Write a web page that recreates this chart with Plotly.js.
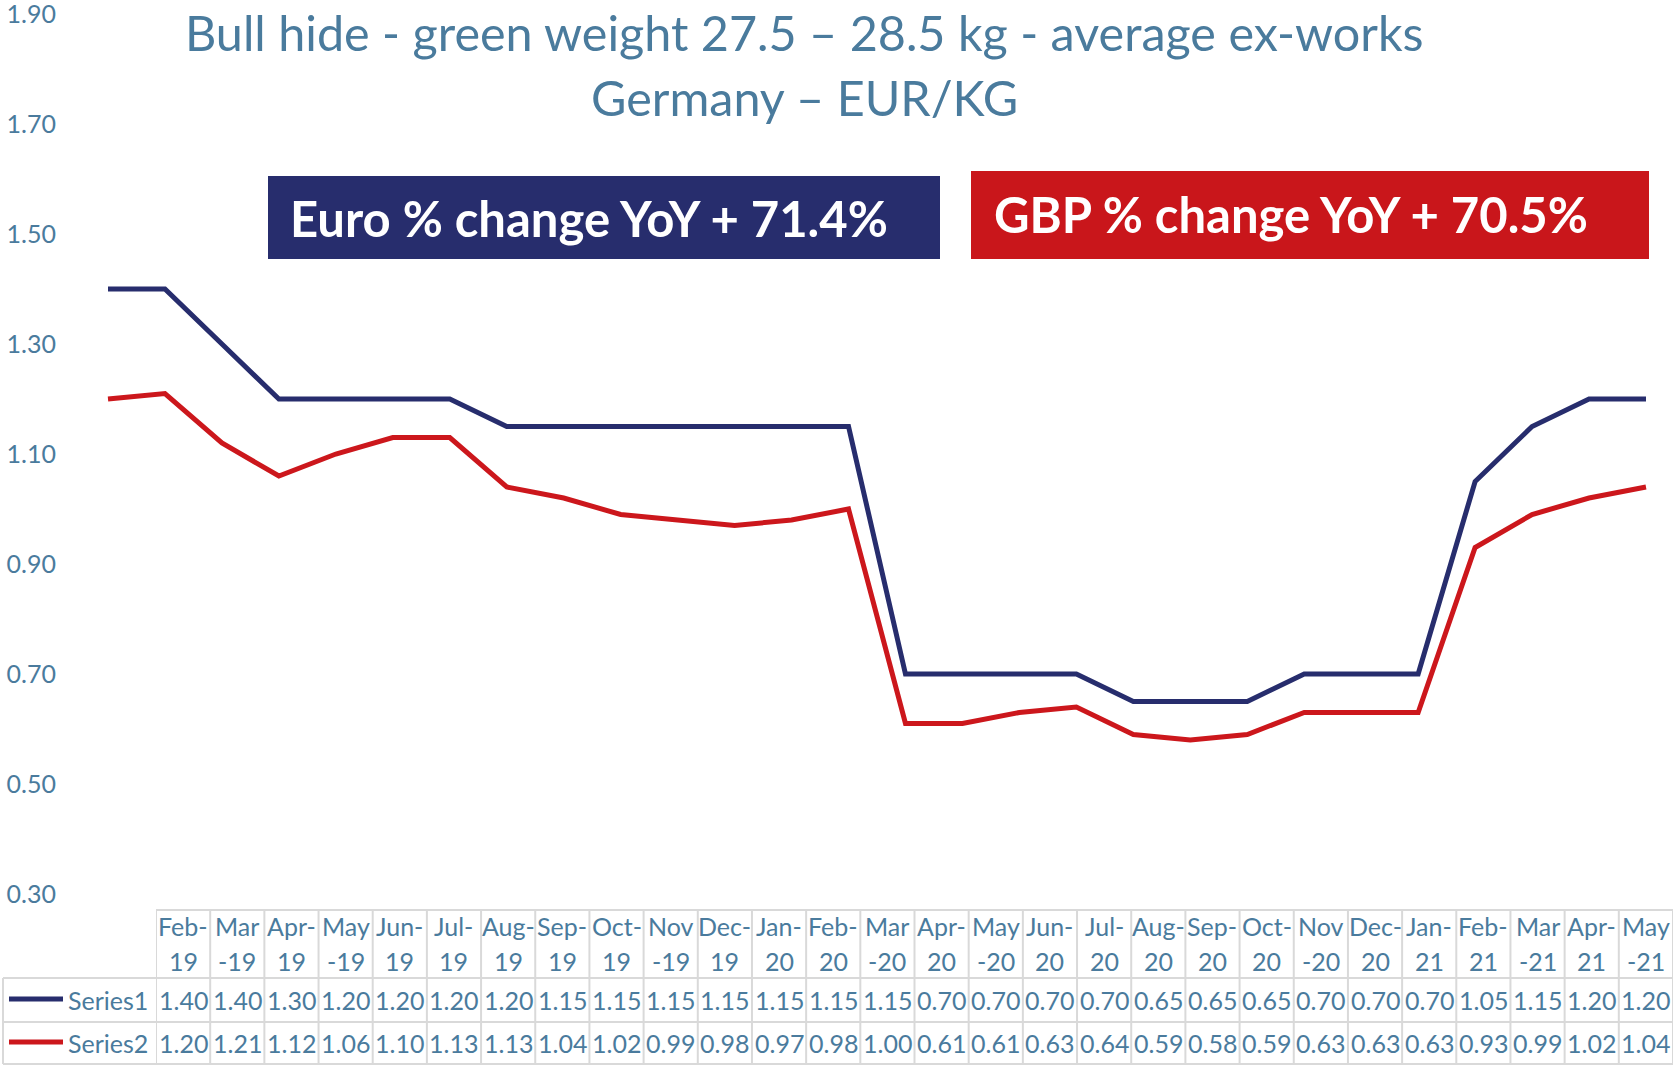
<!DOCTYPE html>
<html>
<head>
<meta charset="utf-8">
<script src="https://cdn.plot.ly/plotly-3.0.1.min.js"></script>
<style>html,body{margin:0;padding:0;background:#fff;}#chart{width:1674px;height:1066px;}</style>
</head>
<body>
<div id="chart"></div>
<script>
// ---- data ----
const categories = ['Feb-19','Mar-19','Apr-19','May-19','Jun-19','Jul-19','Aug-19','Sep-19','Oct-19','Nov-19','Dec-19','Jan-20','Feb-20','Mar-20','Apr-20','May-20','Jun-20','Jul-20','Aug-20','Sep-20','Oct-20','Nov-20','Dec-20','Jan-21','Feb-21','Mar-21','Apr-21','May-21'];
const series1 = [1.40,1.40,1.30,1.20,1.20,1.20,1.20,1.15,1.15,1.15,1.15,1.15,1.15,1.15,0.70,0.70,0.70,0.70,0.65,0.65,0.65,0.70,0.70,0.70,1.05,1.15,1.20,1.20];
const series2 = [1.20,1.21,1.12,1.06,1.10,1.13,1.13,1.04,1.02,0.99,0.98,0.97,0.98,1.00,0.61,0.61,0.63,0.64,0.59,0.58,0.59,0.63,0.63,0.63,0.93,0.99,1.02,1.04];
const seriesNames = ['Series1','Series2'];
const yTicks = [0.30,0.50,0.70,0.90,1.10,1.30,1.50,1.70,1.90];
const titleLines = ['Bull hide - green weight 27.5 \u2013 28.5 kg - average ex-works','Germany \u2013 EUR/KG'];
const boxTexts = ['Euro % change YoY + 71.4%','GBP % change YoY + 70.5%'];
// months whose label wraps before the hyphen
const wrapBefore = ['Mar','May','Nov'];

// ---- styles ----
const W = 1674, H = 1066;
const NAVY = '#272d6d', RED = '#cc171c', TXT = '#4a7b9d', GRID = '#d9d9d9';
const colors = [NAVY, RED];
const px = x => x / W;
const py = y => 1 - y / H;

// x axis mapping for the lines: index 0 at 108px, index 27 at 1646px
const x0 = 108, x27 = 1646, step = (x27 - x0) / 27, pad = 0.3;
const xDomain = [px(x0 - pad * step), px(x27 + pad * step)];
// y axis: 1.90 at 14px, 0.30 at 894px
const yDomain = [py(896), py(12)];
const ySpan = (1.90 - 0.30) * 2 / 880;

const traces = [series1, series2].map((s, k) => ({
  type: 'scatter', mode: 'lines',
  x: categories.map((c, i) => i), y: s,
  xaxis: 'x', yaxis: 'y',
  name: seriesNames[k],
  line: {color: colors[k], width: 5, shape: 'linear'},
  hoverinfo: 'x+y'
}));

// ---- table (subplot x2/y2: columns = category index) ----
const tblLeft = 3, colStart = 156, tblRight = 1673;
const hdrTop = 910, row1Top = 978, row2Top = 1022, tblBottom = 1064;
const shapes = [];
const annotations = [];
const gl = {color: GRID, width: 2};
shapes.push({type:'line', xref:'paper', yref:'paper', x0:px(colStart), x1:px(tblRight), y0:py(hdrTop), y1:py(hdrTop), line:gl});
[row1Top, row2Top, tblBottom].forEach(y => shapes.push({type:'line', xref:'paper', yref:'paper', x0:px(tblLeft), x1:px(tblRight), y0:py(y), y1:py(y), line:gl}));
shapes.push({type:'line', xref:'paper', yref:'paper', x0:px(tblLeft), x1:px(tblLeft), y0:py(row1Top), y1:py(tblBottom), line:gl});
for (let i = 0; i <= categories.length; i++) {
  shapes.push({type:'line', xref:'x2', yref:'paper', x0:i - 0.5, x1:i - 0.5, y0:py(hdrTop), y1:py(tblBottom), line:gl});
}
const tf = {family:'Lato, "Open Sans", sans-serif', size:25, color:TXT};
categories.forEach((c, i) => {
  const [m, yr] = c.split('-');
  const top = wrapBefore.includes(m) ? m : m + '-';
  const bot = wrapBefore.includes(m) ? '-' + yr : yr;
  annotations.push({xref:'x2', yref:'paper', x:i, y:py(926), text:top, showarrow:false, font:tf, xanchor:'center', yanchor:'middle'});
  annotations.push({xref:'x2', yref:'paper', x:i, y:py(961), text:bot, showarrow:false, font:tf, xanchor:'center', yanchor:'middle'});
});
const rowY = [1000, 1043];
[series1, series2].forEach((s, k) => {
  s.forEach((v, i) => annotations.push({xref:'x2', yref:'paper', x:i, y:py(rowY[k]), text:v.toFixed(2), showarrow:false, font:tf, xanchor:'center', yanchor:'middle'}));
  shapes.push({type:'line', xref:'paper', yref:'paper', x0:px(9), x1:px(63), y0:py(rowY[k] - 1), y1:py(rowY[k] - 1), line:{color:colors[k], width:5}});
  annotations.push({xref:'paper', yref:'paper', x:px(66), y:py(rowY[k]), text:seriesNames[k], showarrow:false, font:tf, xanchor:'left', yanchor:'middle'});
});

// ---- title ----
const titleFont = {family:'Lato, "Open Sans", sans-serif', size:48.5, color:TXT};
annotations.push({xref:'paper', yref:'paper', x:px(804), y:py(32), text:titleLines[0], showarrow:false, font:titleFont, xanchor:'center', yanchor:'middle'});
annotations.push({xref:'paper', yref:'paper', x:px(804), y:py(97), text:titleLines[1], showarrow:false, font:titleFont, xanchor:'center', yanchor:'middle'});

// ---- boxes ----
const boxes = [{x0:268, x1:940, y0:176, y1:259, tx:288, ty:218, fill:'#272d6d'}, {x0:971, x1:1649, y0:171, y1:259, tx:992, ty:214, fill:'#c9161b'}];
boxes.forEach((b, k) => {
  shapes.push({type:'rect', xref:'paper', yref:'paper', x0:px(b.x0), x1:px(b.x1), y0:py(b.y1), y1:py(b.y0), fillcolor:b.fill, line:{width:0}, layer:'above'});
  annotations.push({xref:'paper', yref:'paper', x:px(b.tx), y:py(b.ty), text:'<b>' + boxTexts[k] + '</b>', showarrow:false, font:{family:'Lato, "Open Sans", sans-serif', size:49, color:'#ffffff'}, xanchor:'left', yanchor:'middle'});
});

const layout = {
  width: W, height: H,
  margin: {l:0, r:0, t:0, b:0, pad:0},
  paper_bgcolor:'#ffffff', plot_bgcolor:'rgba(0,0,0,0)',
  showlegend:false,
  xaxis: {domain:xDomain, range:[-pad, 27 + pad], anchor:'y', showgrid:false, zeroline:false, showline:false, showticklabels:false, ticks:'', fixedrange:true},
  yaxis: {domain:yDomain, anchor:'x', range:[0.30 - ySpan, 1.90 + ySpan], tickvals:yTicks, ticktext:yTicks.map(v => v.toFixed(2)), showgrid:false, zeroline:false, showline:false, ticks:'', ticklabelstandoff:34, ticklabeloverflow:'allow', tickfont:{family:'Lato, "Open Sans", sans-serif', size:25, color:TXT}, fixedrange:true},
  xaxis2: {domain:[px(colStart), px(tblRight)], range:[-0.5, categories.length - 0.5], anchor:'y2', visible:false, fixedrange:true},
  yaxis2: {domain:[py(tblBottom), py(hdrTop)], range:[0, 1], anchor:'x2', visible:false, fixedrange:true},
  shapes: shapes,
  annotations: annotations
};
Plotly.newPlot('chart', traces, layout, {displayModeBar:false, staticPlot:true});
</script>
</body>
</html>
